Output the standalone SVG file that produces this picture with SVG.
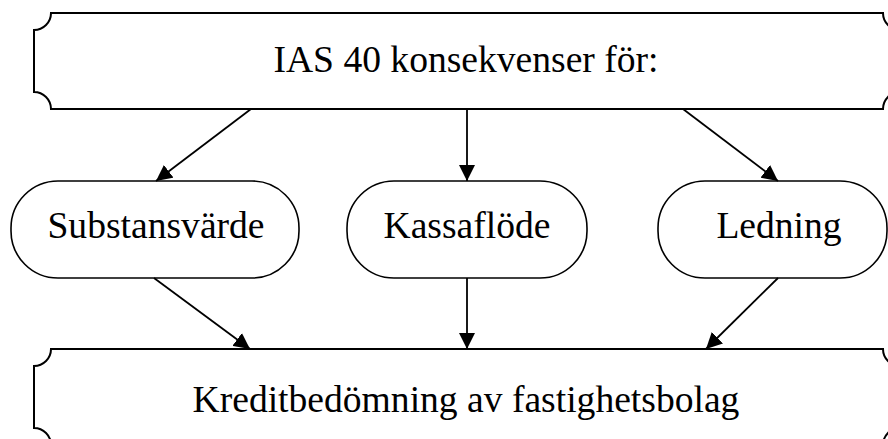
<svg xmlns="http://www.w3.org/2000/svg" width="888" height="439" viewBox="0 0 888 439">
<style>
.plaque{fill:#fff;stroke:#000;stroke-width:2}
.node{fill:#fff;stroke:#000;stroke-width:1.6}
.lbl{font-family:"Liberation Serif","Times New Roman",serif;font-size:37.6px;fill:#000;text-anchor:middle}
.conn{stroke:#000;stroke-width:1.8;fill:none;marker-end:url(#ah)}
</style>
<defs>
<marker id="ah" markerUnits="userSpaceOnUse" markerWidth="16" markerHeight="16" refX="16" refY="8" orient="auto" viewBox="0 0 16 16">
<path d="M0,0 L16,8 L0,16 z" fill="#000"/>
</marker>
</defs>
<rect width="888" height="439" fill="#fff"/>
<g id="top">
<path class="plaque" d="M51,13 H883 A17,17 0 0 0 900,30 V92 A17,17 0 0 0 883,109 H51 A17,17 0 0 0 34,92 V30 A17,17 0 0 0 51,13 Z"/>
<text class="lbl" x="466" y="72">IAS 40 konsekvenser för:</text>
</g>
<g id="substansvarde">
<rect class="node" x="11" y="181" width="288" height="97" rx="47" ry="47"/>
<text class="lbl" x="156" y="238">Substansvärde</text>
</g>
<g id="kassaflode">
<rect class="node" x="347" y="181" width="240" height="97" rx="47" ry="47"/>
<text class="lbl" x="467" y="238">Kassaflöde</text>
</g>
<g id="ledning">
<rect class="node" x="658" y="181" width="229" height="97" rx="47" ry="47"/>
<text class="lbl" x="779" y="238">Ledning</text>
</g>
<g id="bottom">
<path class="plaque" d="M51,349 H883 A17,17 0 0 0 900,366 V428 A17,17 0 0 0 883,445 H51 A17,17 0 0 0 34,428 V366 A17,17 0 0 0 51,349 Z"/>
<text class="lbl" x="466" y="412">Kreditbedömning av fastighetsbolag</text>
</g>
<g id="connectors">
<line class="conn" x1="251" y1="109" x2="156" y2="181"/>
<line class="conn" x1="467" y1="109" x2="467" y2="181"/>
<line class="conn" x1="683" y1="109" x2="778" y2="181"/>
<line class="conn" x1="154" y1="278" x2="250" y2="349"/>
<line class="conn" x1="467" y1="278" x2="467" y2="349"/>
<line class="conn" x1="778" y1="278" x2="706" y2="349"/>
</g>
</svg>
